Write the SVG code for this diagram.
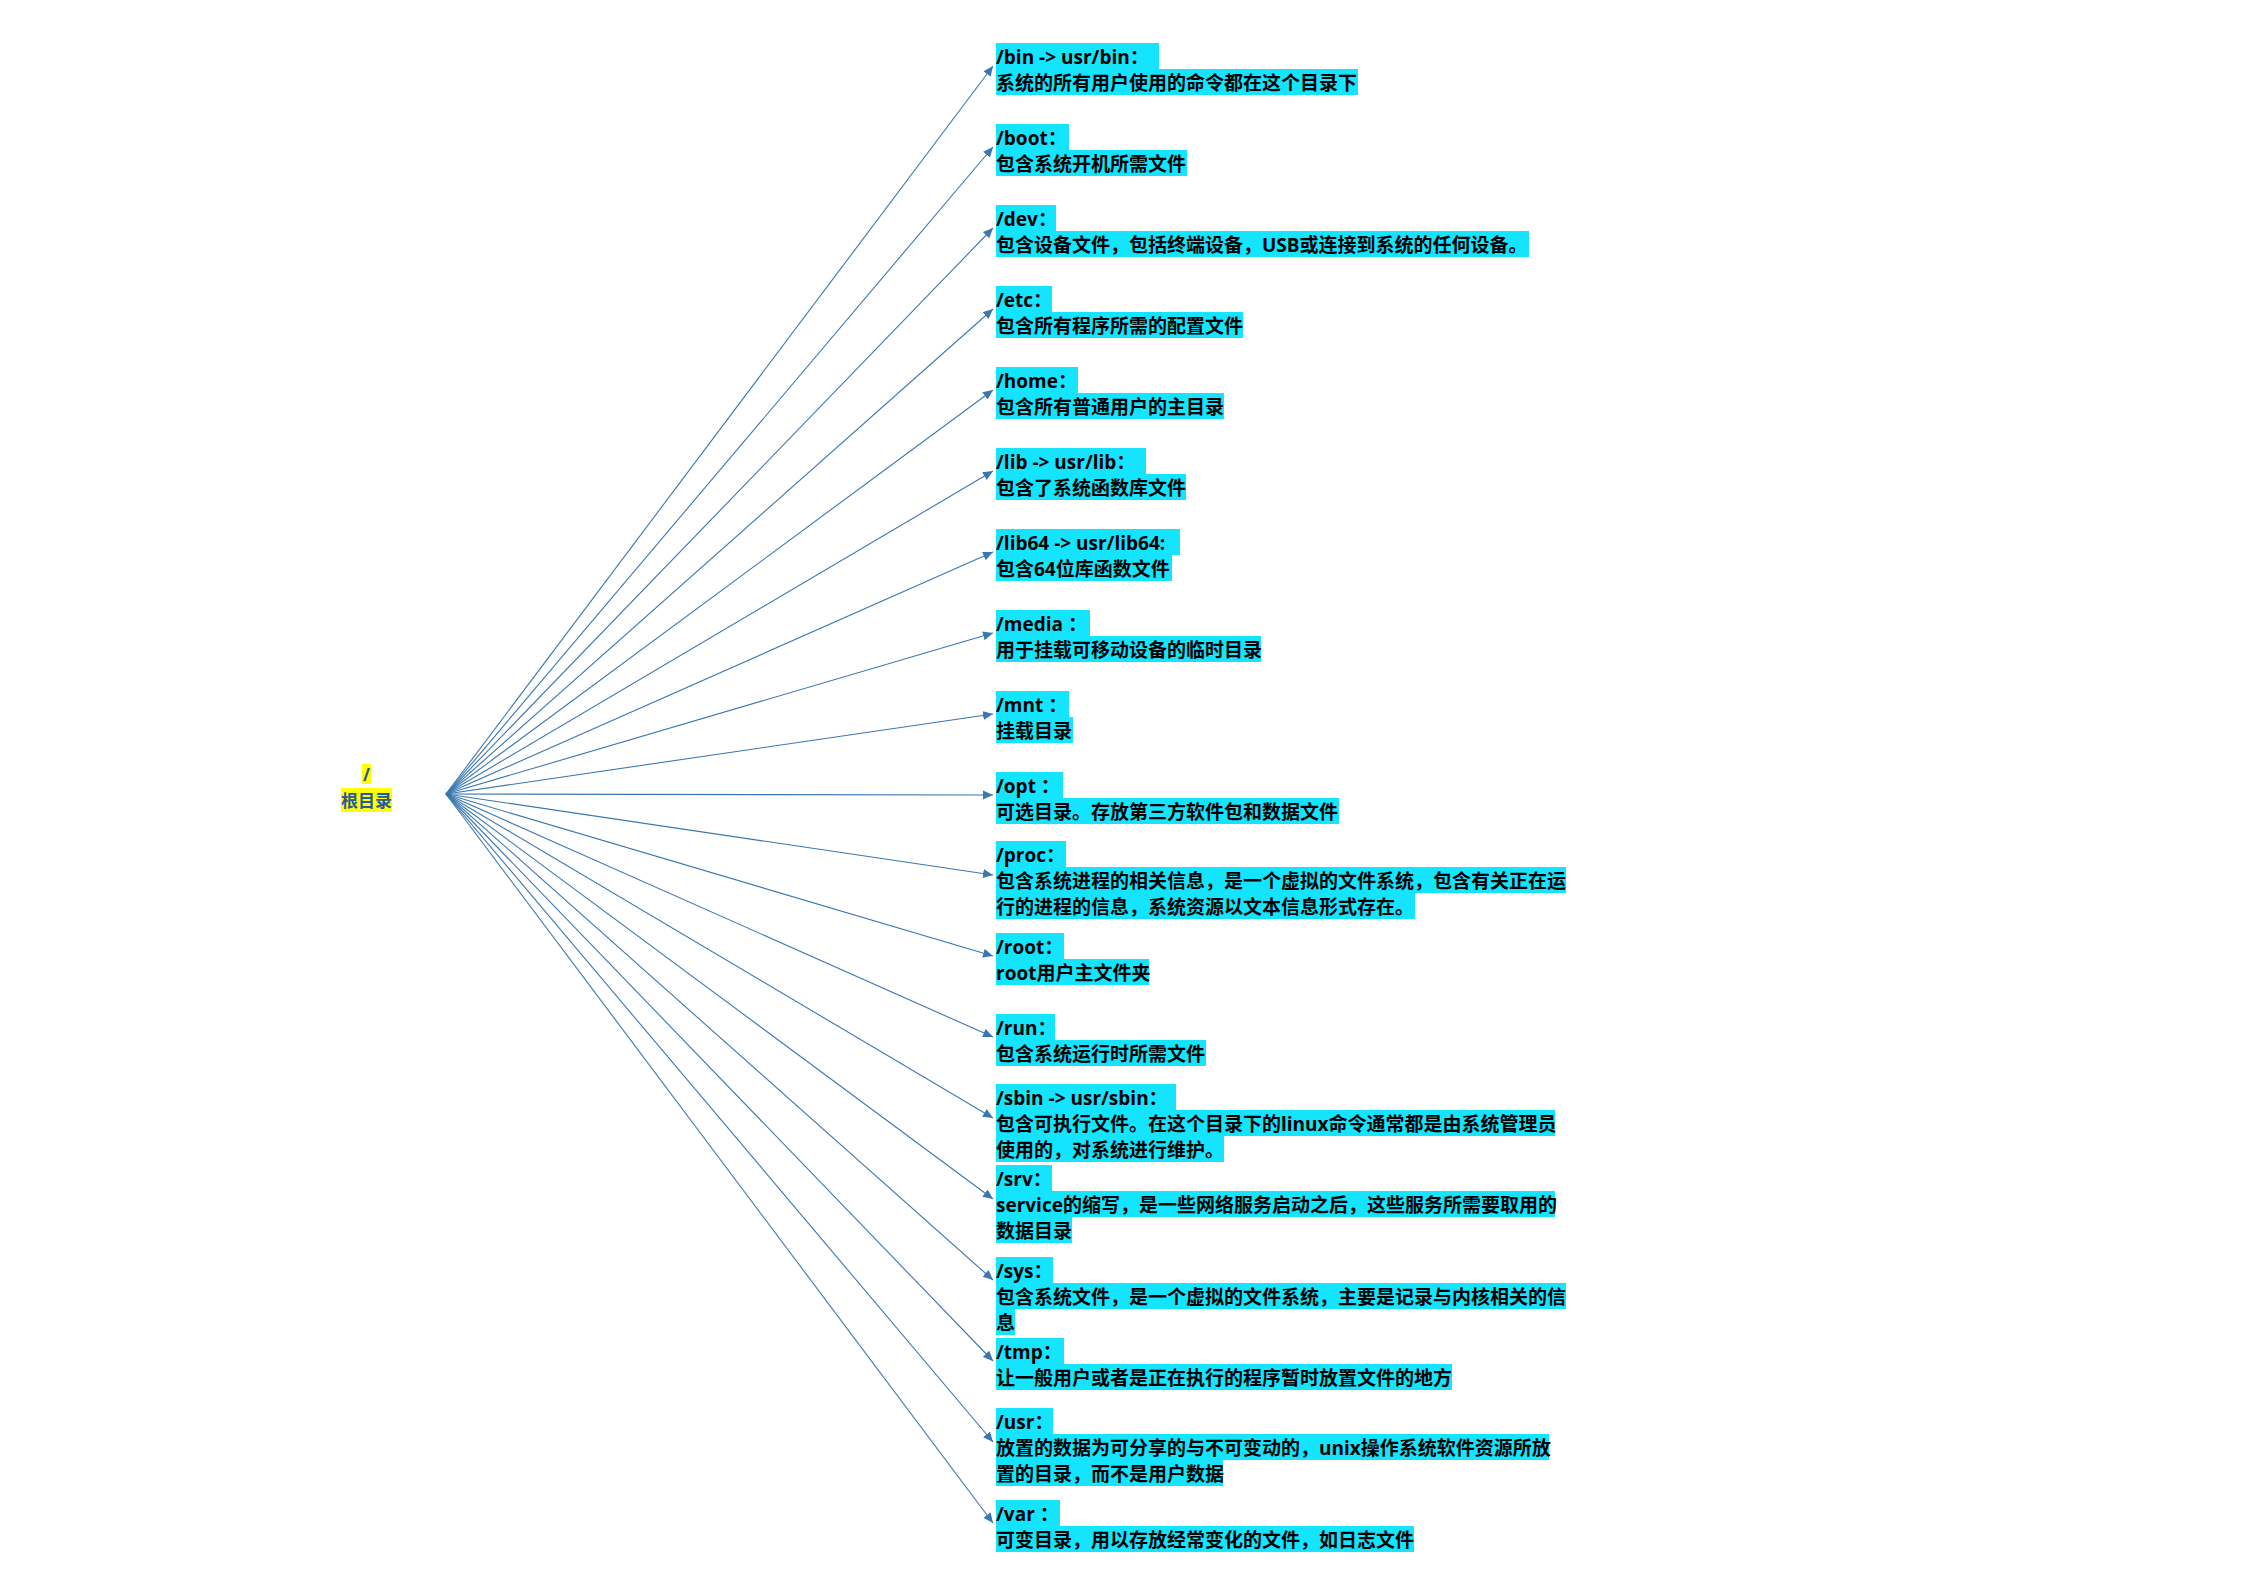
<svg xmlns="http://www.w3.org/2000/svg" width="2245" height="1587" viewBox="0 0 2245 1587">
<style>
.hl{fill:#14e4fd;}
.t{font-family:"Open Sans","Noto Sans CJK SC",sans-serif;font-weight:bold;font-size:19px;fill:#000;}
.rt{font-family:"Open Sans","Noto Sans CJK SC",sans-serif;font-weight:bold;font-size:17px;fill:#24599b;}
.ln{stroke:#3a77b1;stroke-width:1.1;fill:none;marker-end:url(#ah);}
.yl{fill:#ffff00;}
</style>
<defs>
<marker id="ah" markerUnits="userSpaceOnUse" markerWidth="12" markerHeight="10" refX="10" refY="4.5" orient="auto">
<path d="M0,0 L10,4.5 L0,9 Z" fill="#3a77b1"/>
</marker>
</defs>
<rect width="2245" height="1587" fill="#fff"/>
<g id="connectors">
<line class="ln" x1="446" y1="794" x2="993" y2="66"/>
<line class="ln" x1="446" y1="794" x2="993" y2="147"/>
<line class="ln" x1="446" y1="794" x2="993" y2="228"/>
<line class="ln" x1="446" y1="794" x2="993" y2="309"/>
<line class="ln" x1="446" y1="794" x2="993" y2="390"/>
<line class="ln" x1="446" y1="794" x2="993" y2="471"/>
<line class="ln" x1="446" y1="794" x2="993" y2="552"/>
<line class="ln" x1="446" y1="794" x2="993" y2="633"/>
<line class="ln" x1="446" y1="794" x2="993" y2="714"/>
<line class="ln" x1="446" y1="794" x2="993" y2="795"/>
<line class="ln" x1="446" y1="794" x2="993" y2="875"/>
<line class="ln" x1="446" y1="794" x2="993" y2="956"/>
<line class="ln" x1="446" y1="794" x2="993" y2="1037"/>
<line class="ln" x1="446" y1="794" x2="993" y2="1118"/>
<line class="ln" x1="446" y1="794" x2="993" y2="1199"/>
<line class="ln" x1="446" y1="794" x2="993" y2="1280"/>
<line class="ln" x1="446" y1="794" x2="993" y2="1361"/>
<line class="ln" x1="446" y1="794" x2="993" y2="1442"/>
<line class="ln" x1="446" y1="794" x2="993" y2="1523"/>
</g>
<g id="node-root">
<rect class="yl" x="362" y="764" width="9" height="20"/>
<rect class="yl" x="341" y="788" width="51" height="24"/>
<text class="rt" x="366.5" y="781" text-anchor="middle">/</text>
<text class="rt" x="366.5" y="807" text-anchor="middle">根目录</text>
</g>
<g id="node-bin" transform="translate(996,43)">
<rect class="hl" x="0" y="0" width="163" height="26"/><rect class="hl" x="0" y="26" width="362" height="26"/>
<text class="t" x="0" y="21">/bin -&gt; usr/bin：</text><text class="t" x="0" y="47">系统的所有用户使用的命令都在这个目录下</text>
</g>
<g id="node-boot" transform="translate(996,124)">
<rect class="hl" x="0" y="0" width="73" height="26"/><rect class="hl" x="0" y="26" width="191" height="26"/>
<text class="t" x="0" y="21">/boot：</text><text class="t" x="0" y="47">包含系统开机所需文件</text>
</g>
<g id="node-dev" transform="translate(996,205)">
<rect class="hl" x="0" y="0" width="60" height="26"/><rect class="hl" x="0" y="26" width="533" height="26"/>
<text class="t" x="0" y="21">/dev：</text><text class="t" x="0" y="47">包含设备文件，包括终端设备，USB或连接到系统的任何设备。</text>
</g>
<g id="node-etc" transform="translate(996,286)">
<rect class="hl" x="0" y="0" width="56" height="26"/><rect class="hl" x="0" y="26" width="247" height="26"/>
<text class="t" x="0" y="21">/etc：</text><text class="t" x="0" y="47">包含所有程序所需的配置文件</text>
</g>
<g id="node-home" transform="translate(996,367)">
<rect class="hl" x="0" y="0" width="82" height="26"/><rect class="hl" x="0" y="26" width="228" height="26"/>
<text class="t" x="0" y="21">/home：</text><text class="t" x="0" y="47">包含所有普通用户的主目录</text>
</g>
<g id="node-lib" transform="translate(996,448)">
<rect class="hl" x="0" y="0" width="150" height="26"/><rect class="hl" x="0" y="26" width="190" height="26"/>
<text class="t" x="0" y="21">/lib -&gt; usr/lib：</text><text class="t" x="0" y="47">包含了系统函数库文件</text>
</g>
<g id="node-lib64" transform="translate(996,529)">
<rect class="hl" x="0" y="0" width="184" height="26"/><rect class="hl" x="0" y="26" width="176" height="26"/>
<text class="t" x="0" y="21">/lib64 -&gt; usr/lib64:</text><text class="t" x="0" y="47">包含64位库函数文件</text>
</g>
<g id="node-media" transform="translate(996,610)">
<rect class="hl" x="0" y="0" width="94" height="26"/><rect class="hl" x="0" y="26" width="265" height="26"/>
<text class="t" x="0" y="21">/media ：</text><text class="t" x="0" y="47">用于挂载可移动设备的临时目录</text>
</g>
<g id="node-mnt" transform="translate(996,691)">
<rect class="hl" x="0" y="0" width="73" height="26"/><rect class="hl" x="0" y="26" width="77" height="26"/>
<text class="t" x="0" y="21">/mnt ：</text><text class="t" x="0" y="47">挂载目录</text>
</g>
<g id="node-opt" transform="translate(996,772)">
<rect class="hl" x="0" y="0" width="67" height="26"/><rect class="hl" x="0" y="26" width="343" height="26"/>
<text class="t" x="0" y="21">/opt ：</text><text class="t" x="0" y="47">可选目录。存放第三方软件包和数据文件</text>
</g>
<g id="node-proc" transform="translate(996,841)">
<rect class="hl" x="0" y="0" width="70" height="26"/><rect class="hl" x="0" y="26" width="570" height="26"/><rect class="hl" x="0" y="52" width="419" height="26"/>
<text class="t" x="0" y="21">/proc：</text><text class="t" x="0" y="47">包含系统进程的相关信息，是一个虚拟的文件系统，包含有关正在运</text><text class="t" x="0" y="73">行的进程的信息，系统资源以文本信息形式存在。</text>
</g>
<g id="node-root-dir" transform="translate(996,933)">
<rect class="hl" x="0" y="0" width="68" height="26"/><rect class="hl" x="0" y="26" width="153" height="26"/>
<text class="t" x="0" y="21">/root：</text><text class="t" x="0" y="47">root用户主文件夹</text>
</g>
<g id="node-run" transform="translate(996,1014)">
<rect class="hl" x="0" y="0" width="59" height="26"/><rect class="hl" x="0" y="26" width="210" height="26"/>
<text class="t" x="0" y="21">/run：</text><text class="t" x="0" y="47">包含系统运行时所需文件</text>
</g>
<g id="node-sbin" transform="translate(996,1084)">
<rect class="hl" x="0" y="0" width="180" height="26"/><rect class="hl" x="0" y="26" width="559" height="26"/><rect class="hl" x="0" y="52" width="228" height="26"/>
<text class="t" x="0" y="21">/sbin -&gt; usr/sbin：</text><text class="t" x="0" y="47">包含可执行文件。在这个目录下的linux命令通常都是由系统管理员</text><text class="t" x="0" y="73">使用的，对系统进行维护。</text>
</g>
<g id="node-srv" transform="translate(996,1165)">
<rect class="hl" x="0" y="0" width="56" height="26"/><rect class="hl" x="0" y="26" width="559" height="26"/><rect class="hl" x="0" y="52" width="76" height="26"/>
<text class="t" x="0" y="21">/srv：</text><text class="t" x="0" y="47">service的缩写，是一些网络服务启动之后，这些服务所需要取用的</text><text class="t" x="0" y="73">数据目录</text>
</g>
<g id="node-sys" transform="translate(996,1257)">
<rect class="hl" x="0" y="0" width="57" height="26"/><rect class="hl" x="0" y="26" width="570" height="26"/><rect class="hl" x="0" y="52" width="19" height="26"/>
<text class="t" x="0" y="21">/sys：</text><text class="t" x="0" y="47">包含系统文件，是一个虚拟的文件系统，主要是记录与内核相关的信</text><text class="t" x="0" y="73">息</text>
</g>
<g id="node-tmp" transform="translate(996,1338)">
<rect class="hl" x="0" y="0" width="68" height="26"/><rect class="hl" x="0" y="26" width="456" height="26"/>
<text class="t" x="0" y="21">/tmp：</text><text class="t" x="0" y="47">让一般用户或者是正在执行的程序暂时放置文件的地方</text>
</g>
<g id="node-usr" transform="translate(996,1408)">
<rect class="hl" x="0" y="0" width="57" height="26"/><rect class="hl" x="0" y="26" width="553" height="26"/><rect class="hl" x="0" y="52" width="227" height="26"/>
<text class="t" x="0" y="21">/usr：</text><text class="t" x="0" y="47">放置的数据为可分享的与不可变动的，unix操作系统软件资源所放</text><text class="t" x="0" y="73">置的目录，而不是用户数据</text>
</g>
<g id="node-var" transform="translate(996,1500)">
<rect class="hl" x="0" y="0" width="64" height="26"/><rect class="hl" x="0" y="26" width="418" height="26"/>
<text class="t" x="0" y="21">/var ：</text><text class="t" x="0" y="47">可变目录，用以存放经常变化的文件，如日志文件</text>
</g>
</svg>
